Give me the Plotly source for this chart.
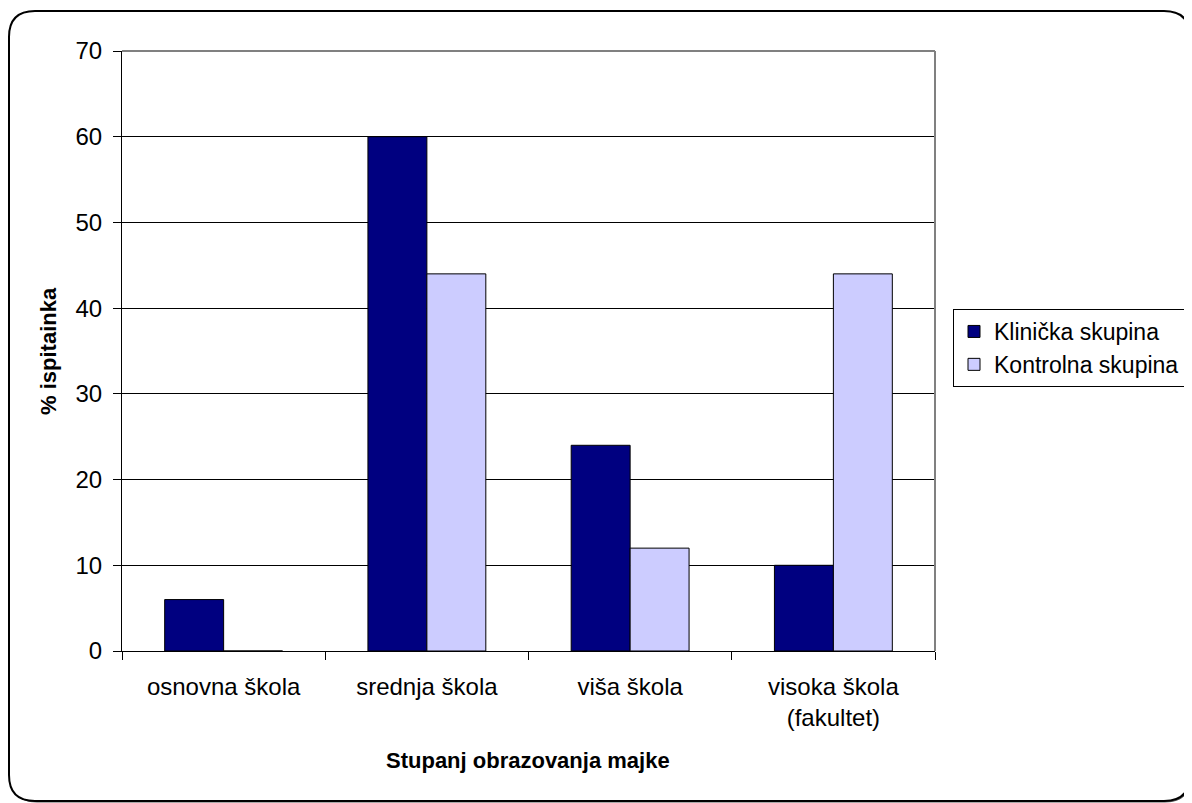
import plotly.graph_objects as go

categories = ["osnovna škola", "srednja škola", "viša škola", "visoka škola<br>(fakultet)"]
klinicka = [6, 60, 24, 10]
kontrolna = [0, 44, 12, 44]
series_names = ["Klinička skupina", "Kontrolna skupina"]
y_ticks = [0, 10, 20, 30, 40, 50, 60, 70]

# figure is placed 8px in from the page corner (default body margin)
W, H = 1184, 795
L, R, T, B = 114, 927, 43, 643

def px(x):
    return (x - L) / (R - L)

def py(y):
    return (B - y) / (B - T)

fig = go.Figure()
fig.add_trace(go.Bar(x=categories, y=klinicka, name=series_names[0],
                     marker=dict(color="#000080", line=dict(color="black", width=1))))
fig.add_trace(go.Bar(x=categories, y=kontrolna, name=series_names[1],
                     marker=dict(color="#CCCCFF", line=dict(color="black", width=1))))

def rounded(x0, y0, x1, y1, r):
    return (f"M {px(x0+r)},{py(y0)} L {px(x1-r)},{py(y0)} Q {px(x1)},{py(y0)} {px(x1)},{py(y0+r)} "
            f"L {px(x1)},{py(y1-r)} Q {px(x1)},{py(y1)} {px(x1-r)},{py(y1)} "
            f"L {px(x0+r)},{py(y1)} Q {px(x0)},{py(y1)} {px(x0)},{py(y1-r)} "
            f"L {px(x0)},{py(y0+r)} Q {px(x0)},{py(y0)} {px(x0+r)},{py(y0)} Z")

shapes = [
    dict(type="path", xref="paper", yref="paper", path=rounded(3, 5, 1183, 794, 26),
         line=dict(color="#555555", width=1), fillcolor="#555555", layer="below"),
    dict(type="path", xref="paper", yref="paper", path=rounded(1, 3, 1182, 793, 26),
         line=dict(color="black", width=2), fillcolor="white", layer="below"),
    dict(type="line", xref="paper", yref="paper", x0=0, x1=1, y0=1, y1=1,
         line=dict(color="#808080", width=2)),
    dict(type="line", xref="paper", yref="paper", x0=1, x1=1, y0=0, y1=1,
         line=dict(color="#808080", width=2)),
]

annotations = [
    dict(text="<b>% ispitainka</b>", xref="paper", yref="paper", x=px(40), y=py(343),
         textangle=-90, showarrow=False, xanchor="center", yanchor="middle",
         font=dict(size=22)),
    dict(text="<b>Stupanj obrazovanja majke</b>", xref="paper", yref="paper", x=px(520), y=py(752),
         showarrow=False, xanchor="center", yanchor="middle", font=dict(size=22)),
]

fig.update_layout(
    width=W, height=H,
    margin=dict(l=L, r=W - R, t=T, b=H - B, autoexpand=False),
    paper_bgcolor="white", plot_bgcolor="white",
    font=dict(family="Liberation Sans, Arial, sans-serif", size=24, color="black"),
    barmode="group", bargap=0.42, bargroupgap=0,
    showlegend=True,
    legend=dict(x=px(945), y=py(340), xanchor="left", yanchor="middle",
                bordercolor="black", borderwidth=1, bgcolor="white",
                font=dict(size=23), tracegroupgap=0, itemwidth=30),
    shapes=shapes,
    annotations=annotations,
    xaxis=dict(showline=True, linecolor="black", linewidth=1,
               ticks="outside", tickson="boundaries", ticklen=8, tickcolor="black",
               tickfont=dict(size=24), showgrid=False, ticklabelstandoff=14),
    yaxis=dict(range=[0, 70], tickvals=y_ticks, showline=True, linecolor="black", linewidth=1,
               ticks="outside", ticklen=8, tickcolor="black", tickfont=dict(size=24),
               showgrid=True, gridcolor="black", gridwidth=1, zeroline=False,
               ticklabelstandoff=6),
)

fig.write_html("out.html")
